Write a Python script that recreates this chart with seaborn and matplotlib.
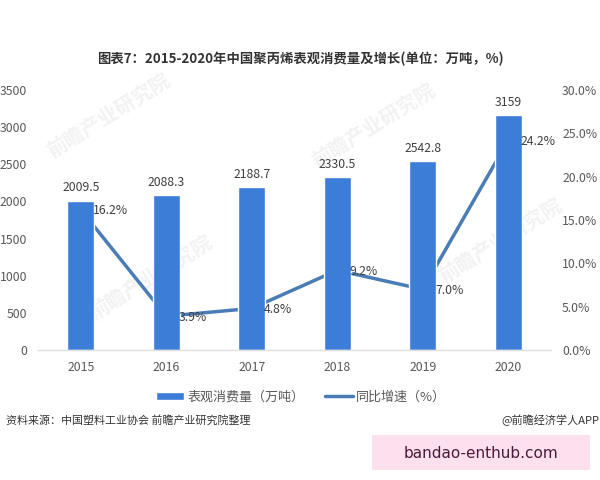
import matplotlib
matplotlib.use('Agg')
import matplotlib.pyplot as plt
from matplotlib.patches import Rectangle
import numpy as np
import pandas as pd
import seaborn as sns

years = ['2015', '2016', '2017', '2018', '2019', '2020']
consumption = [2009.5, 2088.3, 2188.7, 2330.5, 2542.8, 3159]
consumption_labels = ['2009.5', '2088.3', '2188.7', '2330.5', '2542.8', '3159']
growth = [16.2, 3.9, 4.8, 9.2, 7.0, 24.2]
growth_labels = ['16.2%', '3.9%', '4.8%', '9.2%', '7.0%', '24.2%']
left_ticks = [0, 500, 1000, 1500, 2000, 2500, 3000, 3500]
right_ticks = [0, 5, 10, 15, 20, 25, 30]

BAR_COLOR = '#3c7dd8'
LINE_COLOR = '#4a7cb5'
TICK_COLOR = '#595959'

sns.set_theme(style='white')
plt.rcParams['font.family'] = ['Noto Sans CJK SC', 'DejaVu Sans']

df = pd.DataFrame({'year': years, 'consumption': consumption, 'growth': growth})

fig = plt.figure(figsize=(6, 4.8), dpi=100)
ax1 = fig.add_axes([38 / 600, 130 / 480, 513 / 600, 260 / 480])
ax2 = ax1.twinx()

# bars sit in front of the line, same as the original; watermark behind both
ax1.set_zorder(3)
ax2.set_zorder(2)
ax1.patch.set_visible(False)
ax2.patch.set_visible(False)

sns.barplot(data=df, x='year', y='consumption', ax=ax1, color=BAR_COLOR,
            width=0.315, saturation=1, legend=False)
sns.lineplot(x=np.arange(len(years)), y=df['growth'], ax=ax2, color=LINE_COLOR,
             linewidth=2.5, label='同比增速（%）', legend=False)

ax1.set_xlim(-0.5, 5.5)
ax1.set_ylim(0, 3500)
ax2.set_ylim(0, 30)
ax1.set_xlabel('')
ax1.set_ylabel('')
ax2.set_xlabel('')
ax2.set_ylabel('')
ax1.set_yticks(left_ticks)
ax2.set_yticks(right_ticks)
ax2.set_yticklabels([f'{t:.1f}%' for t in right_ticks])
ax1.tick_params(axis='both', length=0, labelsize=8.8, labelcolor=TICK_COLOR)
ax1.tick_params(axis='x', pad=8)
ax1.tick_params(axis='y', pad=8)
ax2.tick_params(axis='y', length=0, labelsize=8.8, labelcolor=TICK_COLOR, pad=8)

for ax in (ax1, ax2):
    for side in ('top', 'left', 'right', 'bottom'):
        ax.spines[side].set_visible(False)
ax1.spines['bottom'].set_visible(True)
ax1.spines['bottom'].set_color('#e0e0e0')
ax1.spines['bottom'].set_linewidth(1)

for i, txt in enumerate(consumption_labels):
    ax1.annotate(txt, (i, consumption[i]), xytext=(0, 4.5), textcoords='offset points',
                 ha='center', va='bottom', fontsize=8.8, color='#404040')

# growth labels drawn on ax1 so they stay over the bars
for i, txt in enumerate(growth_labels):
    ax1.annotate(txt, (i, growth[i]), xycoords=ax2.transData, xytext=(9, -1),
                 textcoords='offset points', ha='left', va='center', fontsize=8.8,
                 color='#404040', zorder=6)

# faint watermark
for x, y in [(108, 115), (373, 125), (150, 277), (500, 240)]:
    fig.text(x / 600, 1 - y / 480, '前瞻产业研究院', fontsize=14.5, color='#f2f2f2', rotation=32,
             ha='center', va='center', fontweight='bold', zorder=0)

fig.text(300 / 600, 421 / 480, '图表7：2015-2020年中国聚丙烯表观消费量及增长(单位：万吨，%)',
         ha='center', va='center', fontsize=9.6, fontweight='bold', color='#333333')

h1 = ax1.containers[0]
h2, l2 = ax2.get_legend_handles_labels()
fig.legend([h1] + h2, ['表观消费量（万吨）'] + l2, ncol=2, frameon=False, loc='center',
           bbox_to_anchor=(301 / 600, 83 / 480), fontsize=9.4, labelcolor=TICK_COLOR,
           columnspacing=1.55, handlelength=2.15, handletextpad=0.25, handleheight=0.5)

fig.text(6 / 600, 60 / 480, '资料来源：中国塑料工业协会 前瞻产业研究院整理',
         ha='left', va='center', fontsize=7.9, color='#333333')
fig.text(599 / 600, 60 / 480, '@前瞻经济学人APP', ha='right', va='center',
         fontsize=8, color='#333333')

fig.add_artist(Rectangle((372 / 600, 10 / 480), 218 / 600, 35 / 480,
                         transform=fig.transFigure, facecolor='#fde0ee', edgecolor='none'))
fig.text(481 / 600, 27 / 480, 'bandao-enthub.com', ha='center', va='center',
         fontsize=11, color='#4a1a3a', family='DejaVu Sans', zorder=5)

fig.savefig('out.png', dpi=100)
